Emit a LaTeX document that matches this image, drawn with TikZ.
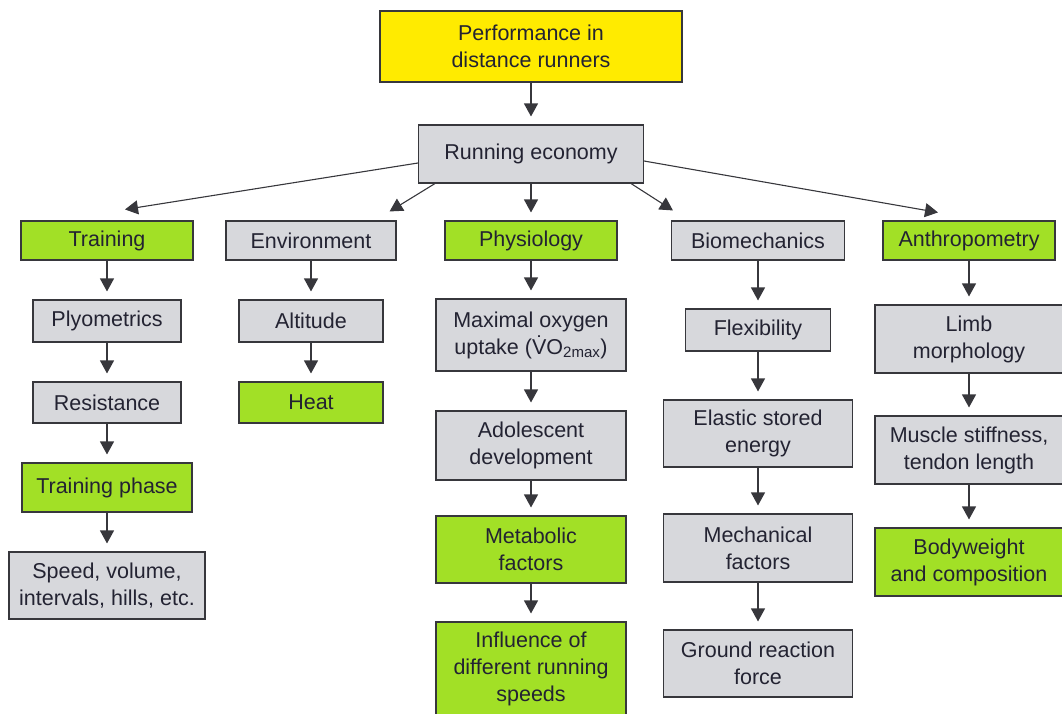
\documentclass[tikz,border=0pt]{standalone}
\usepackage{fontspec}
\setmainfont{Liberation Sans}
\usetikzlibrary{arrows.meta}
\definecolor{boxgray}{RGB}{215,216,220}
\definecolor{boxgreen}{RGB}{162,224,38}
\definecolor{boxyellow}{RGB}{255,235,0}
\definecolor{edge}{RGB}{55,55,60}
\definecolor{ink}{RGB}{35,35,50}

\begin{document}
\begin{tikzpicture}[x=1pt,y=-1pt,>={Triangle[length=13pt,width=14pt]},
    box/.style 2 args={draw=edge,line width=1.1pt,fill=boxgray,align=center,
      text=ink,font=\fontsize{21.5}{27}\selectfont,inner sep=0pt,
      minimum width=#1pt,minimum height=#2pt},
    grn/.style={fill=boxgreen},
    arr/.style={->,draw=edge,line width=1.1pt,shorten >=8pt},
  ]
    \useasboundingbox (0,0) rectangle (1062,713);
    \node[box={302}{71},fill=boxyellow] (perf) at (531,46.5) {Performance in\\distance runners};
    \node[box={225}{58}] (econ) at (531,154) {Running economy};

    \node[box={172}{39},grn] (train) at (107,240.5) {Training};
    \node[box={170}{39}] (env) at (311,240.5) {Environment};
    \node[box={172}{39},grn] (phys) at (531,240.5) {Physiology};
    \node[box={173}{39}] (biom) at (758,240.5) {Biomechanics};
    \node[box={172}{39},grn] (anth) at (969,240.5) {Anthropometry};

    \node[box={148}{42}] (plyo) at (107,321) {Plyometrics};
    \node[box={148}{41}] (resist) at (107,402.5) {Resistance};
    \node[box={170}{49},grn] (phase) at (107,487.5) {Training phase};
    \node[box={196}{67}] (speed) at (107,585.5) {Speed, volume,\\intervals, hills, etc.};

    \node[box={144}{42}] (alt) at (311,321) {Altitude};
    \node[box={144}{41},grn] (heat) at (311,402.5) {Heat};

    \node[box={190}{72}] (vo2) at (531,335) {Maximal oxygen\\uptake (\.{V}O\textsubscript{2max})};
    \node[box={190}{69}] (adol) at (531,445.5) {Adolescent\\development};
    \node[box={190}{67},grn] (meta) at (531,549.5) {Metabolic\\factors};
    \node[box={190}{93},grn] (infl) at (531,668.5) {Influence of\\different running\\speeds};

    \node[box={145}{42}] (flex) at (758,330) {Flexibility};
    \node[box={189}{67}] (elastic) at (758,433.5) {Elastic stored\\energy};
    \node[box={189}{68}] (mech) at (758,548) {Mechanical\\factors};
    \node[box={189}{67}] (ground) at (758,663.5) {Ground reaction\\force};

    \node[box={188}{68}] (limb) at (969,339) {Limb\\morphology};
    \node[box={188}{68}] (muscle) at (969,450) {Muscle stiffness,\\tendon length};
    \node[box={188}{68},grn] (bodyw) at (969,562) {Bodyweight\\and composition};

    \draw[arr] (perf) -- (econ);
    \draw[arr,shorten >=0pt] ([yshift=-9pt]econ.west) -- ([shift={(18,-11)}]train.north);
    \draw[arr,shorten >=0pt] ([xshift=17pt]econ.south west) -- ([shift={(-7,-9)}]env.north east);
    \draw[arr] (econ) -- (phys);
    \draw[arr,shorten >=0pt] ([xshift=-13pt]econ.south east) -- ([shift={(2,-10)}]biom.north west);
    \draw[arr,shorten >=0pt] ([yshift=-7pt]econ.east) -- ([shift={(-31,-8)}]anth.north);

    \draw[arr] (train) -- (plyo);
    \draw[arr] (plyo) -- (resist);
    \draw[arr] (resist) -- (phase);
    \draw[arr] (phase) -- (speed);
    \draw[arr] (env) -- (alt);
    \draw[arr] (alt) -- (heat);
    \draw[arr] (phys) -- (vo2);
    \draw[arr] (vo2) -- (adol);
    \draw[arr] (adol) -- (meta);
    \draw[arr] (meta) -- (infl);
    \draw[arr] (biom) -- (flex);
    \draw[arr] (flex) -- (elastic);
    \draw[arr] (elastic) -- (mech);
    \draw[arr] (mech) -- (ground);
    \draw[arr] (anth) -- (limb);
    \draw[arr] (limb) -- (muscle);
    \draw[arr] (muscle) -- (bodyw);
\end{tikzpicture}
\end{document}
